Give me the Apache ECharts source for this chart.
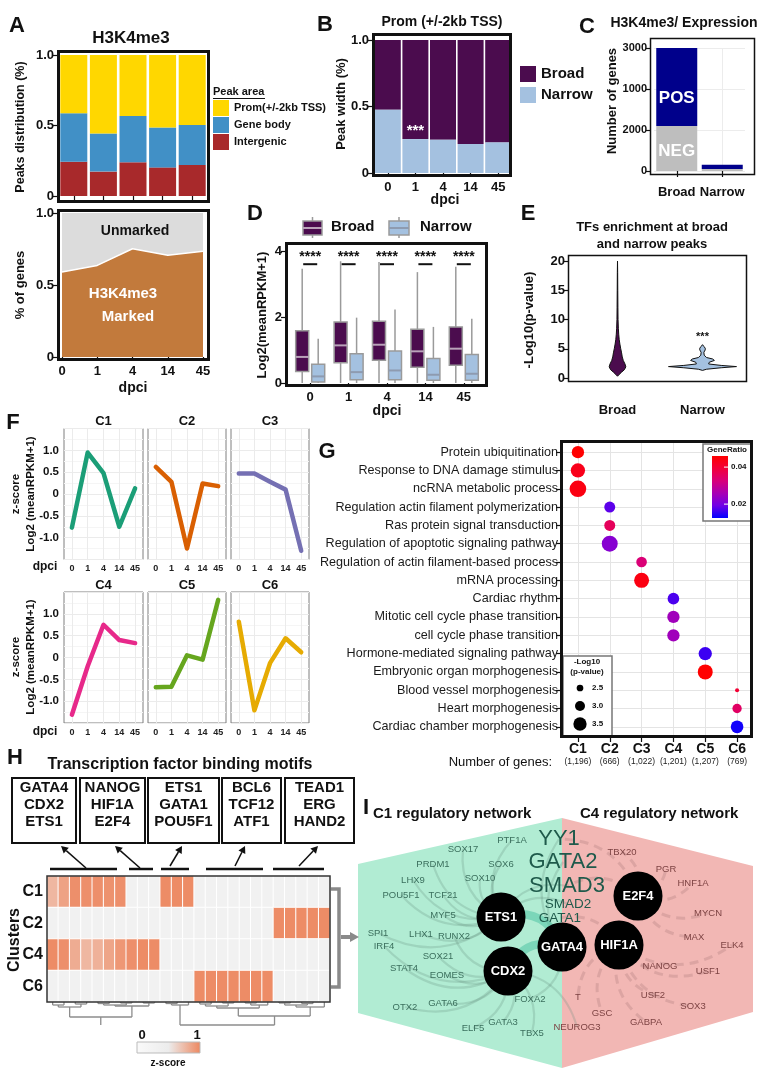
<!DOCTYPE html>
<html><head><meta charset="utf-8">
<script src="https://cdn.jsdelivr.net/npm/echarts@6.0.0/dist/echarts.min.js"></script>
<style>html,body{margin:0;padding:0;background:#fff;}#chart{width:761px;height:1068px;}</style>
</head><body><div id="chart"></div>
<script>
// ====================== DATA ======================
const dpci = ['0','1','4','14','45'];
// A
const peakProm = [0.414,0.556,0.433,0.515,0.496];
const peakGeneBody = [0.343,0.271,0.328,0.282,0.284];
const peakIntergenic = [0.243,0.173,0.239,0.203,0.220];
const peakAreaNames = ['Prom(+/-2kb TSS)','Gene body','Intergenic'];
const markedFrac = [0.59,0.636,0.752,0.706,0.734];
// B
const narrowFrac = [0.475,0.255,0.25,0.218,0.23];
const bSig = ['','***','','',''];
// C
const cCats = ['Broad','Narrow'];
const cNeg = [1100,50];
const cPos = [2050,100];
const cYTickLabels = ['0','2000','1000','3000'];
// D  [min, Q1, median, Q3, max]
const dBroad = [[0,0.35,0.79,1.58,3.46],[0,0.61,1.14,1.85,3.69],[0,0.69,1.16,1.87,3.67],[0,0.48,0.96,1.63,3.36],[0,0.54,1.04,1.70,3.52]];
const dNarrow = [[0,0.03,0.2,0.57,1.34],[0,0.1,0.33,0.89,1.98],[0,0.1,0.38,0.97,2.23],[0,0.08,0.25,0.74,1.7],[0,0.08,0.28,0.86,1.95]];
const dSig = ['****','****','****','****','****'];
// E  violin profiles [value, relative half-width]
const eCats = ['Broad','Narrow'];
const eBroadViolin = [[0.3,0],[0.6,0.05],[1.0,0.12],[1.4,0.2],[1.9,0.245],[2.4,0.22],[3.0,0.17],[3.6,0.14],[4.3,0.12],[5.0,0.095],[5.8,0.07],[6.6,0.05],[7.5,0.035],[8.5,0.025],[10,0.016],[12,0.012],[15,0.008],[18,0.005],[20,0]];
const eNarrowViolin = [[1.3,0],[1.5,0.12],[1.75,0.55],[1.95,1.0],[2.15,0.55],[2.4,0.18],[2.7,0.2],[3.0,0.35],[3.25,0.3],[3.5,0.12],[3.9,0.05],[4.4,0.04],[4.8,0.08],[5.1,0.08],[5.4,0.04],[5.7,0]];
const eSig = '***';
// F
const fClusters = ['C1','C2','C3','C4','C5','C6'];
const fValues = [
  [-0.77,0.95,0.48,-0.75,0.13],
  [0.62,0.28,-1.25,0.24,0.18],
  [0.47,0.47,0.28,0.1,-1.3],
  [-1.31,-0.2,0.75,0.4,0.33],
  [-0.68,-0.67,0.05,-0.05,1.32],
  [0.82,-1.21,-0.13,0.44,0.12]
];
// G
const gTerms = ['Protein ubiquitination','Response to DNA damage stimulus','ncRNA metabolic process','Regulation actin filament polymerization','Ras protein signal transduction','Regulation of apoptotic signaling pathway','Regulation of actin filament-based process','mRNA processing','Cardiac rhythm','Mitotic cell cycle phase transition','cell cycle phase transition','Hormone-mediated signaling pathway','Embryonic organ morphogenesis','Blood vessel morphogenesis','Heart morphogenesis','Cardiac chamber morphogenesis'];
const gClusters = ['C1','C2','C3','C4','C5','C6'];
const gCounts = ['(1,196)','(666)','(1,022)','(1,201)','(1,207)','(769)'];
const gDotCluster = [0,0,0,1,1,1,2,2,3,3,3,4,4,5,5,5];
const gDotLogP = [3.35,3.65,4.0,3.15,3.15,3.9,3.1,3.75,3.25,3.35,3.35,3.5,3.75,2.1,2.9,3.4];
const gDotRatio = [0.046,0.043,0.044,0.018,0.036,0.022,0.033,0.044,0.017,0.025,0.025,0.016,0.046,0.040,0.035,0.0135];
const gRatioTicks = [0.02,0.04];
const gPTicks = [2.5,3.0,3.5];
// H
const hRows = ['C1','C2','C4','C6'];
const hCols = ['m1','m2','m3','m4','m5','m6','m7','m8','m9','m10','m11','m12','m13','m14','m15','m16','m17','m18','m19','m20','m21','m22','m23','m24','m25'];
const hValues = [
  [0.55,0.75,0.92,0.92,0.92,0.9,0.92,0,0,0,0.95,0.95,0.95,0,0,0,0,0,0,0,0,0,0,0,0],
  [0,0,0,0,0,0,0,0,0,0,0,0,0,0,0,0,0,0,0,0,0.95,0.95,0.95,0.95,0.95],
  [0.95,0.92,0.65,0.55,0.6,0.72,0.85,0.92,0.95,0.95,0,0,0,0,0,0,0,0,0,0,0,0,0,0,0],
  [0,0,0,0,0,0,0,0,0,0,0,0,0,0.95,0.95,0.95,0.95,0.95,0.95,0.95,0,0,0,0,0]
];
const hMotifGroups = ['GATA4\nCDX2\nETS1','NANOG\nHIF1A\nE2F4','ETS1\nGATA1\nPOU5F1','BCL6\nTCF12\nATF1','TEAD1\nERG\nHAND2'];
// dendrogram segments [x1 (column units), h1, x2, h2]
const hDendro = [
  [0.5,0,0.5,3],[1.5,0,1.5,3],[0.5,3,1.5,3],
  [2.5,0,2.5,2],[3.5,0,3.5,2],[2.5,2,3.5,2],
  [1.0,3,1.0,5],[3.0,2,3.0,5],[1.0,5,3.0,5],
  [4.5,0,4.5,1.5],[5.5,0,5.5,1.5],[4.5,1.5,5.5,1.5],
  [6.5,0,6.5,1],[7.5,0,7.5,1],[6.5,1,7.5,1],
  [8.5,0,8.5,1],[9.5,0,9.5,1],[8.5,1,9.5,1],
  [5.0,1.5,5.0,3],[7.0,1,7.0,3],[5.0,3,7.0,3],
  [6.0,3,6.0,4],[9.0,1,9.0,4],[6.0,4,9.0,4],
  [2.0,5,2.0,15],[7.5,4,7.5,15],[2.0,15,7.5,15],[4.75,15,4.75,23],
  [10.5,0,10.5,1.5],[11.5,0,11.5,1.5],[10.5,1.5,11.5,1.5],
  [11.0,1.5,11.0,3],[12.5,0,12.5,3],[11.0,3,12.5,3],[11.75,3,11.75,23],
  [13.5,0,13.5,2],[14.5,0,14.5,2],[13.5,2,14.5,2],
  [15.5,0,15.5,1],[16.5,0,16.5,1],[15.5,1,16.5,1],
  [17.5,0,17.5,1],[18.5,0,18.5,1],[17.5,1,18.5,1],
  [14.0,2,14.0,4],[16.0,1,16.0,4],[14.0,4,16.0,4],
  [18.0,1,18.0,3],[19.5,0,19.5,3],[18.0,3,19.5,3],
  [15.0,4,15.0,6],[18.75,3,18.75,6],[15.0,6,18.75,6],[16.9,6,16.9,14],
  [20.5,0,20.5,1],[21.5,0,21.5,1],[20.5,1,21.5,1],
  [22.5,0,22.5,1.5],[23.5,0,23.5,1.5],[22.5,1.5,23.5,1.5],
  [21.0,1,21.0,3],[23.0,1.5,23.0,3],[21.0,3,23.0,3],
  [22.0,3,22.0,5],[24.5,0,24.5,5],[22.0,5,24.5,5],[23.25,5,23.25,14],
  [16.9,14,23.25,14],[20.1,14,20.1,23],[11.75,23,20.1,23]
];
// I network
const iHubs = ['ETS1','CDX2','GATA4','HIF1A','E2F4'];
const iHubPos = [[501,917],[508,971],[562,947],[619,945],[638,896]];
const iTFs = ['YY1','GATA2','SMAD3','SMAD2','GATA1'];
const iTFPos = [[559,839],[563,862],[567,886],[568,904],[560,918]];
const iC1Genes = ['PTF1A','SOX17','PRDM1','SOX6','LHX9','SOX10','POU5F1','TCF21','MYF5','LHX1','RUNX2','SPI1','IRF4','SOX21','STAT4','EOMES','OTX2','GATA6','ELF5','GATA3','TBX5','FOXA2'];
const iC1Pos = [[512,840],[463,849],[433,864],[501,864],[413,880],[480,878],[401,895],[443,895],[443,915],[421,934],[454,936],[378,933],[384,946],[438,956],[404,968],[447,975],[405,1007],[443,1003],[473,1028],[503,1022],[532,1033],[530,999]];
const iC4Genes = ['TBX20','PGR','HNF1A','MYCN','MAX','ELK4','NANOG','USF1','T','USF2','SOX3','GSC','GABPA','NEUROG3'];
const iC4Pos = [[622,852],[666,869],[693,883],[708,913],[694,937],[732,945],[660,966],[708,971],[578,997],[653,995],[693,1006],[602,1013],[646,1022],[577,1027]];
const iC1Links = [['ETS1','PTF1A'],['ETS1','SOX17'],['ETS1','PRDM1'],['ETS1','SOX6'],['ETS1','LHX9'],['ETS1','SOX10'],['ETS1','POU5F1'],['ETS1','TCF21'],['ETS1','MYF5'],['ETS1','LHX1'],['ETS1','SPI1'],['CDX2','RUNX2'],['CDX2','IRF4'],['CDX2','SOX21'],['CDX2','STAT4'],['CDX2','EOMES'],['CDX2','OTX2'],['CDX2','GATA6'],['CDX2','ELF5'],['CDX2','GATA3'],['CDX2','TBX5'],['GATA4','FOXA2'],['GATA4','YY1'],['GATA4','GATA2'],['ETS1','SMAD3'],['ETS1','SMAD2'],['CDX2','NEUROG3']];
const iC4Links = [['E2F4','TBX20'],['E2F4','PGR'],['E2F4','HNF1A'],['E2F4','MYCN'],['E2F4','MAX'],['HIF1A','ELK4'],['HIF1A','NANOG'],['HIF1A','USF1'],['HIF1A','USF2'],['HIF1A','SOX3'],['HIF1A','GABPA'],['HIF1A','GSC'],['HIF1A','T'],['E2F4','SMAD3'],['HIF1A','GATA1'],['E2F4','YY1']];
const iCoreLinks = [['ETS1','GATA4'],['CDX2','GATA4']];

// ====================== STYLE HELPERS ======================
const FONT = '"Liberation Sans", Arial, Helvetica, sans-serif';
const Bst = (size, color) => ({fontFamily: FONT, fontWeight: 'bold', fontSize: size, color: color || '#111'});
const tickStyle = {show: true, length: 4, lineStyle: {color: '#111', width: 1.2}};
function T(x, y, text, size, o) {
  o = o || {};
  return {type: 'text', x: x, y: y, rotation: o.rot || 0, z: o.z || 60, silent: true,
    style: {text: text, fill: o.color || '#111', fontSize: size, fontWeight: o.weight || 'bold', fontFamily: FONT,
      align: o.align || 'center', verticalAlign: o.va || 'middle', lineHeight: o.lh || undefined}};
}
function R(x, y, w, h, lw, stroke, fill, z) {
  return {type: 'rect', shape: {x: x, y: y, width: w, height: h}, z: z || 50, silent: true,
    style: {stroke: stroke || '#111', lineWidth: lw, fill: fill || 'transparent'}};
}
function L(x1, y1, x2, y2, lw, color, z) {
  return {type: 'line', shape: {x1: x1, y1: y1, x2: x2, y2: y2}, z: z || 50, silent: true, style: {stroke: color || '#111', lineWidth: lw}};
}
function arrow(x1, y1, x2, y2, lw, color, head) {
  const a = Math.atan2(y2 - y1, x2 - x1);
  const hx = x2 - head * Math.cos(a), hy = y2 - head * Math.sin(a), w = head * 0.55;
  return [L(x1, y1, hx, hy, lw, color),
    {type: 'polygon', z: 50, silent: true, shape: {points: [[x2, y2], [hx + w * Math.sin(a), hy - w * Math.cos(a)], [hx - w * Math.sin(a), hy + w * Math.cos(a)]]}, style: {fill: color}}];
}
const fmt1 = v => v === 0 ? '0' : v.toFixed(1);

const grids = [], xAxes = [], yAxes = [], S = [], G = [];
function addGrid(g) { g.outerBoundsMode = 'none'; grids.push(g); return grids.length - 1; }

// ====================== A top ======================
const gA1 = addGrid({left: 59, top: 55, width: 148, height: 141});
xAxes.push({gridIndex: gA1, type: 'category', data: dpci, offset: 7, axisLine: {show: false}, axisTick: Object.assign({alignWithLabel: true}, tickStyle), axisLabel: {show: false}, splitLine: {show: false}});
yAxes.push({gridIndex: gA1, type: 'value', min: 0, max: 1, interval: 0.5, offset: 2, axisLine: {show: false}, axisTick: tickStyle, axisLabel: Object.assign(Bst(13), {margin: 3, formatter: fmt1}), splitLine: {show: false}});
const aColors = ['#FFD700', '#4190C6', '#A8292B'];
[[peakIntergenic, 2], [peakGeneBody, 1], [peakProm, 0]].forEach(p => {
  S.push({type: 'bar', name: peakAreaNames[p[1]], xAxisIndex: gA1, yAxisIndex: gA1, stack: 'pa', barWidth: 27, data: p[0], itemStyle: {color: aColors[p[1]]}});
});
// ====================== A bottom ======================
const gA2 = addGrid({left: 62, top: 213, width: 141, height: 144});
xAxes.push({gridIndex: gA2, type: 'category', data: dpci, boundaryGap: false, offset: 4, axisLine: {show: false}, axisTick: tickStyle, axisLabel: Object.assign(Bst(13), {margin: 4, interval: 0}), splitLine: {show: false}});
yAxes.push({gridIndex: gA2, type: 'value', min: 0, max: 1, interval: 0.5, offset: 5, axisLine: {show: false}, axisTick: tickStyle, axisLabel: Object.assign(Bst(13), {margin: 3, formatter: fmt1}), splitLine: {show: false}});
S.push({type: 'line', name: 'Marked', xAxisIndex: gA2, yAxisIndex: gA2, stack: 'm', data: markedFrac, symbol: 'none', lineStyle: {color: '#fff', width: 1.5}, areaStyle: {color: '#C27A3C', opacity: 1}, z: 4});
S.push({type: 'line', name: 'Unmarked', xAxisIndex: gA2, yAxisIndex: gA2, stack: 'm', data: markedFrac.map(v => +(1 - v).toFixed(3)), symbol: 'none', lineStyle: {width: 0}, areaStyle: {color: '#DCDCDC', opacity: 1}, z: 3});
// ====================== B ======================
const gB = addGrid({left: 374, top: 40, width: 138, height: 133});
xAxes.push({gridIndex: gB, type: 'category', data: dpci, offset: 4, axisLine: {show: false}, axisTick: Object.assign({alignWithLabel: true}, tickStyle), axisLabel: Object.assign(Bst(13), {margin: 4, interval: 0}), splitLine: {show: false}});
yAxes.push({gridIndex: gB, type: 'value', min: 0, max: 1, interval: 0.5, offset: 2, axisLine: {show: false}, axisTick: tickStyle, axisLabel: Object.assign(Bst(13), {margin: 3, formatter: fmt1}), splitLine: {show: false}});
S.push({type: 'bar', name: 'Narrow', xAxisIndex: gB, yAxisIndex: gB, stack: 'pb', barWidth: 26, z: 4,
  data: narrowFrac.map((v, i) => ({value: v, label: {show: !!bSig[i], formatter: bSig[i], position: 'top', distance: 1, color: '#fff', fontSize: 15, fontWeight: 'bold', fontFamily: FONT}})),
  itemStyle: {color: '#A4C1E0'}});
S.push({type: 'bar', name: 'Broad', xAxisIndex: gB, yAxisIndex: gB, stack: 'pb', barWidth: 26, data: narrowFrac.map(v => +(1 - v).toFixed(3)), itemStyle: {color: '#4B0C4E'}});
// ====================== C ======================
const gC = addGrid({left: 654, top: 48, width: 91, height: 123});
xAxes.push({gridIndex: gC, type: 'category', data: cCats, offset: 4, axisLine: {show: false}, axisTick: Object.assign({alignWithLabel: true}, tickStyle, {length: 6}), axisLabel: Object.assign(Bst(13), {margin: 11, interval: 0}), splitLine: {show: true, alignWithLabel: true, lineStyle: {color: '#ececec'}}});
yAxes.push({gridIndex: gC, type: 'value', min: 0, max: 3000, interval: 1000, offset: 4, axisLine: {show: false}, axisTick: tickStyle, axisLabel: Object.assign(Bst(11), {margin: 3, formatter: v => cYTickLabels[Math.round(v / 1000)]}), splitLine: {show: true, lineStyle: {color: '#ececec'}}});
const cLbl = (t, i) => ({show: i === 0, formatter: t, color: '#fff', fontSize: 17, fontWeight: 'bold', fontFamily: FONT});
S.push({type: 'bar', name: 'NEG', xAxisIndex: gC, yAxisIndex: gC, stack: 'pc', barWidth: 41, data: cNeg.map((v, i) => ({value: v, label: Object.assign(cLbl('NEG', i), {position: 'inside', offset: [0, 3]})})), itemStyle: {color: '#BEBEBE'}});
S.push({type: 'bar', name: 'POS', xAxisIndex: gC, yAxisIndex: gC, stack: 'pc', barWidth: 41, data: cPos.map((v, i) => ({value: v, label: Object.assign(cLbl('POS', i), {position: 'insideBottom', distance: 19})})), itemStyle: {color: '#00008B'}});
// ====================== D ======================
const gD = addGrid({left: 291, top: 251, width: 192, height: 132});
xAxes.push({gridIndex: gD, type: 'category', data: dpci, offset: 4, axisLine: {show: false}, axisTick: Object.assign({alignWithLabel: true}, tickStyle), axisLabel: Object.assign(Bst(13), {margin: 4, interval: 0}), splitLine: {show: false}});
yAxes.push({gridIndex: gD, type: 'value', min: 0, max: 4, interval: 2, offset: 6, axisLine: {show: false}, axisTick: tickStyle, axisLabel: Object.assign(Bst(13), {margin: 3}), splitLine: {show: false}});
function boxRender(offset, fill, medColor) {
  return function (params, api) {
    const i = api.value(0);
    const x = api.coord([i, 0])[0] + offset;
    const y = v => api.coord([i, v])[1];
    const y0 = y(api.value(1)), q1 = y(api.value(2)), md = y(api.value(3)), q3 = y(api.value(4)), y4 = y(api.value(5));
    const w = 13, st = {stroke: '#9a9a9a', lineWidth: 1.5};
    return {type: 'group', children: [
      {type: 'line', shape: {x1: x, y1: q3, x2: x, y2: y4}, style: st},
      {type: 'line', shape: {x1: x, y1: q1, x2: x, y2: y0}, style: st},
      {type: 'rect', shape: {x: x - w / 2, y: q3, width: w, height: q1 - q3}, style: {fill: fill, stroke: '#9a9a9a', lineWidth: 1.5}},
      {type: 'line', shape: {x1: x - w / 2, y1: md, x2: x + w / 2, y2: md}, style: {stroke: medColor, lineWidth: 2}}
    ]};
  };
}
S.push({type: 'custom', name: 'Broad RPKM', xAxisIndex: gD, yAxisIndex: gD, data: dBroad.map((d, i) => [i].concat(d)), encode: {x: 0, y: [1, 2, 3, 4, 5]}, renderItem: boxRender(-8, '#4B0C4E', '#b9a3b9')});
S.push({type: 'custom', name: 'Narrow RPKM', xAxisIndex: gD, yAxisIndex: gD, data: dNarrow.map((d, i) => [i].concat(d)), encode: {x: 0, y: [1, 2, 3, 4, 5]}, renderItem: boxRender(8, '#A4C1E0', '#8e9bb0')});
S.push({type: 'custom', name: 'sigD', xAxisIndex: gD, yAxisIndex: gD, data: dSig.map((s, i) => [i]), encode: {x: 0},
  renderItem: function (params, api) {
    const i = api.value(0);
    const c = api.coord([i, 3.6]), t = api.coord([i, 3.8]);
    return {type: 'group', children: [
      {type: 'line', shape: {x1: c[0] - 7, y1: c[1], x2: c[0] + 7, y2: c[1]}, style: {stroke: '#111', lineWidth: 2}},
      {type: 'text', x: t[0], y: t[1], style: {text: dSig[i], fill: '#111', fontSize: 14, fontWeight: 'bold', fontFamily: FONT, align: 'center', verticalAlign: 'middle'}}
    ]};
  }});
// ====================== E ======================
const gE = addGrid({left: 575, top: 261, width: 170, height: 117});
xAxes.push({gridIndex: gE, type: 'category', data: eCats, offset: 4, axisLine: {show: false}, axisTick: {show: false}, axisLabel: Object.assign(Bst(13), {margin: 22, interval: 0}), splitLine: {show: false}});
yAxes.push({gridIndex: gE, type: 'value', min: 0, max: 20, interval: 5, offset: 7, axisLine: {show: false}, axisTick: tickStyle, axisLabel: Object.assign(Bst(13), {margin: 3}), splitLine: {show: false}});
function violinRender(profile, fill, sig) {
  return function (params, api) {
    const cat = api.value(0), left = [], right = [];
    profile.forEach(p => {
      const pt = api.coord([cat, p[0]]);
      left.push([pt[0] - p[1] * 34, pt[1]]);
      right.push([pt[0] + p[1] * 34, pt[1]]);
    });
    const kids = [{type: 'polygon', shape: {points: left.concat(right.reverse())}, style: {fill: fill, stroke: '#111', lineWidth: 1}}];
    if (sig) {
      const s = api.coord([cat, 7.0]);
      kids.push({type: 'text', x: s[0], y: s[1], style: {text: sig, fill: '#111', fontSize: 11, fontWeight: 'bold', fontFamily: FONT, align: 'center', verticalAlign: 'middle'}});
    }
    return {type: 'group', children: kids};
  };
}
S.push({type: 'custom', name: 'violinBroad', xAxisIndex: gE, yAxisIndex: gE, data: [[0]], encode: {x: 0}, renderItem: violinRender(eBroadViolin, '#4B0C4E', null)});
S.push({type: 'custom', name: 'violinNarrow', xAxisIndex: gE, yAxisIndex: gE, data: [[1]], encode: {x: 0}, renderItem: violinRender(eNarrowViolin, '#A4C1E0', eSig)});
// ====================== F ======================
const fPalette = ['#1B9E77', '#D95F02', '#7570B3', '#E7298A', '#66A61E', '#E6AB02'];
const fLefts = [64, 148, 231], fWidths = [79, 78, 78], fTops = [428.5, 592];
fClusters.forEach((cl, k) => {
  const col = k % 3, row = Math.floor(k / 3);
  const gi = addGrid({left: fLefts[col], top: fTops[row], width: fWidths[col], height: 131, show: true, borderColor: '#7f7f7f', borderWidth: 1, backgroundColor: '#fff'});
  xAxes.push({gridIndex: gi, type: 'category', data: dpci, boundaryGap: true, axisLine: {show: false}, axisTick: {show: false}, axisLabel: Object.assign(Bst(9, '#222'), {margin: 5, interval: 0}), splitLine: {show: true, alignWithLabel: true, lineStyle: {color: '#ebebeb'}}});
  yAxes.push({gridIndex: gi, type: 'value', min: -1.5, max: 1.5, interval: 0.5, axisLine: {show: false}, axisTick: {show: false},
    axisLabel: Object.assign(Bst(11.5), {show: col === 0, margin: 5, formatter: v => Math.abs(v) > 1.01 ? '' : fmt1(v)}),
    splitLine: {show: true, lineStyle: {color: '#ebebeb'}}, minorTick: {show: false, splitNumber: 2}, minorSplitLine: {show: true, lineStyle: {color: '#f5f5f5'}}});
  S.push({type: 'line', name: cl, xAxisIndex: gi, yAxisIndex: gi, data: fValues[k], symbol: 'none', lineStyle: {color: fPalette[k], width: 4.5, cap: 'round', join: 'round'}, z: 4});
  G.push(T(fLefts[col] + fWidths[col] / 2, fTops[row] - 7, cl, 13));
});
// ====================== G ======================
const gG = addGrid({left: 562, top: 443, width: 191, height: 293});
xAxes.push({gridIndex: gG, type: 'category', data: gClusters, offset: 2, axisLine: {show: false}, axisTick: Object.assign({alignWithLabel: true}, tickStyle),
  axisLabel: {interval: 0, margin: 5, formatter: (v, i) => '{a|' + v + '}\n{b|' + gCounts[i] + '}',
    rich: {a: Object.assign(Bst(14), {lineHeight: 13}), b: {fontFamily: FONT, fontSize: 8.5, color: '#222', lineHeight: 11}}},
  splitLine: {show: true, alignWithLabel: true, lineStyle: {color: '#e4e4e4'}}});
yAxes.push({gridIndex: gG, type: 'category', data: gTerms, inverse: true, offset: 1, axisLine: {show: false}, axisTick: Object.assign({alignWithLabel: true}, tickStyle, {length: 5}),
  axisLabel: {interval: 0, margin: 3, fontFamily: FONT, fontSize: 12.6, color: '#1a1a1a'},
  splitLine: {show: true, alignWithLabel: true, lineStyle: {color: '#e4e4e4'}}});
const gSize = p => Math.max(3, 6.7 + (p - 2.5) * 6.6);
const gColorStops = ['#0000ff', '#7000e6', '#a800b4', '#d8007a', '#f2003a', '#ff0000'];
const gSeriesIdx = S.length;
S.push({type: 'scatter', name: 'GO', xAxisIndex: gG, yAxisIndex: gG, data: gDotCluster.map((c, i) => [c, i, gDotLogP[i], gDotRatio[i]]), encode: {x: 0, y: 1}, symbolSize: d => gSize(d[2]), itemStyle: {opacity: 1}, z: 5});
// ====================== H ======================
const gH = addGrid({left: 47, top: 876, width: 283, height: 126});
xAxes.push({gridIndex: gH, type: 'category', data: hCols, axisLine: {show: false}, axisTick: {show: false}, axisLabel: {show: false}, splitLine: {show: false}});
yAxes.push({gridIndex: gH, type: 'category', data: hRows, inverse: true, axisLine: {show: false}, axisTick: {show: false}, axisLabel: Object.assign(Bst(16), {margin: 4, interval: 0}), splitLine: {show: false}});
const hData = [];
hValues.forEach((row, r) => row.forEach((v, c) => hData.push([c, r, v])));
const hSeriesIdx = S.length;
S.push({type: 'heatmap', name: 'motifs', xAxisIndex: gH, yAxisIndex: gH, data: hData, itemStyle: {borderColor: '#ffffff', borderWidth: 1}, emphasis: {disabled: true}});
const gHd = addGrid({left: 47, top: 1002, width: 283, height: 28});
xAxes.push({gridIndex: gHd, type: 'value', min: 0, max: 25, show: false});
yAxes.push({gridIndex: gHd, type: 'value', min: 0, max: 28, inverse: true, show: false});
S.push({type: 'custom', name: 'dendro', xAxisIndex: gHd, yAxisIndex: gHd, data: hDendro, encode: {x: [0, 2], y: [1, 3]},
  renderItem: function (params, api) {
    const a = api.coord([api.value(0), api.value(1)]), b = api.coord([api.value(2), api.value(3)]);
    return {type: 'line', shape: {x1: a[0], y1: a[1], x2: b[0], y2: b[1]}, style: {stroke: '#8c8c8c', lineWidth: 1.3}};
  }});
// ====================== I ======================
const gI = addGrid({left: 362, top: 805, width: 399, height: 263});
xAxes.push({gridIndex: gI, type: 'value', min: 362, max: 761, show: false});
yAxes.push({gridIndex: gI, type: 'value', min: 805, max: 1068, inverse: true, show: false});
const nodes = [];
const txtNode = (n, pos, color, size) => ({name: n, value: pos, symbol: 'circle', symbolSize: 1, itemStyle: {color: 'rgba(0,0,0,0)'},
  label: {show: true, position: 'inside', color: color, fontSize: size, fontFamily: FONT, formatter: '{b}'}});
iC1Genes.forEach((n, i) => nodes.push(txtNode(n, iC1Pos[i], '#3b6f5d', 9.5)));
iC4Genes.forEach((n, i) => nodes.push(txtNode(n, iC4Pos[i], '#7d4343', 9.5)));
iTFs.forEach((n, i) => nodes.push(txtNode(n, iTFPos[i], '#1f5a4b', i < 3 ? 22 : 13.5)));
iHubs.forEach((n, i) => nodes.push({name: n, value: iHubPos[i], symbol: 'circle', symbolSize: 49, itemStyle: {color: '#000'},
  label: {show: true, position: 'inside', color: '#fff', fontSize: 13, fontWeight: 'bold', fontFamily: FONT, formatter: '{b}'}}));
const links = [];
iC1Links.forEach(l => links.push({source: l[0], target: l[1], lineStyle: {color: 'rgba(100,140,122,0.5)', width: 2.2, curveness: 0.35}}));
iC4Links.forEach(l => links.push({source: l[0], target: l[1], lineStyle: {color: 'rgba(165,115,115,0.55)', width: 3, type: [9, 6], curveness: -0.35}}));
iCoreLinks.forEach(l => links.push({source: l[0], target: l[1], lineStyle: {color: '#45bf9f', width: 8, curveness: 0.45}}));
S.push({type: 'graph', name: 'network', coordinateSystem: 'cartesian2d', xAxisIndex: gI, yAxisIndex: gI, layout: 'none', roam: false, silent: true,
  data: nodes, links: links, edgeSymbol: ['none', 'none'], emphasis: {disabled: true}, z: 3});

// ====================== GRAPHIC ======================
// panel letters
[['A', 17, 26], ['B', 325, 25], ['C', 587, 27], ['D', 255, 214], ['E', 528, 214], ['F', 13, 423], ['G', 327, 452], ['H', 15, 758], ['I', 366, 808]]
  .forEach(p => G.push(T(p[1], p[2], p[0], 22)));
// titles
G.push(T(131, 38, 'H3K4me3', 17));
G.push(T(442, 22, 'Prom (+/-2kb TSS)', 14));
G.push(T(684, 23, 'H3K4me3/ Expression', 14));
G.push(T(652, 236, 'TFs enrichment at broad\nand narrow peaks', 13, {lh: 17}));
G.push(T(180, 765, 'Transcription factor binding motifs', 16));
G.push(T(373, 814, 'C1 regulatory network', 15, {align: 'left'}));
G.push(T(580, 814, 'C4 regulatory network', 15, {align: 'left'}));
// axis names
const R90 = Math.PI / 2;
G.push(T(21, 127, 'Peaks distribution (%)', 12.5, {rot: R90}));
G.push(T(20, 285, '% of genes', 13, {rot: R90}));
G.push(T(341, 104, 'Peak width (%)', 13, {rot: R90}));
G.push(T(612, 101, 'Number of genes', 13, {rot: R90}));
G.push(T(262, 315, 'Log2(meanRPKM+1)', 13, {rot: R90}));
G.push(T(529, 320, '-Log10(p-value)', 13, {rot: R90}));
G.push(T(23, 494, 'z-score\nLog2 (meanRPKM+1)', 11.5, {rot: R90, lh: 15}));
G.push(T(23, 657, 'z-score\nLog2 (meanRPKM+1)', 11.5, {rot: R90, lh: 15}));
G.push(T(15, 940, 'Clusters', 16, {rot: R90}));
G.push(T(133, 388, 'dpci', 14));
G.push(T(445, 200, 'dpci', 14));
G.push(T(387, 411, 'dpci', 14));
G.push(T(45, 567, 'dpci', 12));
G.push(T(45, 732, 'dpci', 12));
// frames
G.push(R(58.5, 51.5, 150, 150, 3));
G.push(R(58.5, 210.5, 150, 149, 3));
G.push(R(373.5, 34.5, 137, 141, 3));
G.push(R(650.5, 38.5, 104, 136, 1.5));
G.push(R(286.5, 243.5, 200, 142, 3));
G.push(R(568.5, 255.5, 178, 126, 1.5));
G.push(R(561.5, 441.5, 190, 295, 3));
G.push(R(47, 876, 283, 126, 1.5, '#333'));
// A annotations
G.push(T(135, 231, 'Unmarked', 14));
G.push(T(123, 294, 'H3K4me3', 15, {color: '#fff'}));
G.push(T(128, 317, 'Marked', 15, {color: '#fff'}));
G.push(T(213, 92, 'Peak area', 11, {align: 'left'}));
G.push(L(213, 98.5, 265, 98.5, 1));
// D legend
G.push(L(312.5, 217, 312.5, 238, 1.5, '#9a9a9a'));
G.push(R(303, 221, 19, 14, 1.5, '#9a9a9a', '#4B0C4E', 55));
G.push(L(303, 228, 322, 228, 2, '#b9a3b9', 56));
G.push(T(331, 227, 'Broad', 15, {align: 'left'}));
G.push(L(399, 217, 399, 238, 1.5, '#9a9a9a'));
G.push(R(389, 221, 20, 14, 1.5, '#9a9a9a', '#A4C1E0', 55));
G.push(L(389, 228, 409, 228, 2, '#8e9bb0', 56));
G.push(T(420, 227, 'Narrow', 15, {align: 'left'}));
// G legends
const grTop = 456, grH = 62, grMin = 0.0125, grMax = 0.046;
G.push(R(703, 444, 49, 77, 1.5, '#777', '#fff', 20));
G.push(T(727, 450, 'GeneRatio', 8, {z: 21}));
G.push({type: 'rect', z: 21, silent: true, shape: {x: 712, y: grTop, width: 16, height: grH},
  style: {fill: {type: 'linear', x: 0, y: 1, x2: 0, y2: 0, colorStops: gColorStops.map((c, i) => ({offset: i / (gColorStops.length - 1), color: c}))}}});
gRatioTicks.forEach(v => {
  const yy = grTop + grH - (v - grMin) / (grMax - grMin) * grH;
  G.push(L(724, yy, 728, yy, 1, '#fff', 22));
  G.push(T(731, yy, v.toFixed(2), 8, {align: 'left', z: 22}));
});
G.push(R(563, 656, 49, 80, 1.5, '#777', '#fff', 20));
G.push(T(587, 667, '-Log10\n(p-value)', 8, {z: 21, lh: 10}));
gPTicks.forEach((p, i) => {
  const yy = 688 + i * 18;
  G.push({type: 'circle', z: 21, silent: true, shape: {cx: 580, cy: yy, r: gSize(p) / 2}, style: {fill: '#000'}});
  G.push(T(592, yy, p.toFixed(1), 8, {align: 'left', z: 21}));
});
G.push(T(552, 762, 'Number of genes:', 13, {align: 'right', weight: 'normal'}));
// H annotation boxes and arrows
const hBoxX = [[12, 76], [80, 145], [148, 219], [222, 281], [285, 354]];
hBoxX.forEach((b, i) => {
  G.push(R(b[0], 778, b[1] - b[0], 65, 2));
  G.push(T((b[0] + b[1]) / 2, 805, hMotifGroups[i], 15, {lh: 17}));
});
const hBars = [[50, 117], [129, 153], [161, 189], [206, 263], [273, 324]];
hBars.forEach(b => G.push(L(b[0], 869, b[1], 869, 2.5)));
[[86, 868, 61, 846], [140, 868, 115, 846], [170, 866, 182, 846], [235, 866, 245, 846], [299, 866, 318, 846]]
  .forEach(a => arrow(a[0], a[1], a[2], a[3], 1.5, '#111', 7).forEach(e => G.push(e)));
G.push({type: 'polyline', z: 50, silent: true, shape: {points: [[331, 889], [339, 889], [339, 987], [331, 987]]}, style: {stroke: '#8a8a8a', lineWidth: 3.5, fill: null}});
arrow(341, 937, 359, 937, 4, '#8a8a8a', 9).forEach(e => G.push(e));
// H colorbar
G.push({type: 'rect', z: 50, silent: true, shape: {x: 137, y: 1042, width: 63, height: 11},
  style: {stroke: '#bbb', lineWidth: 1, fill: {type: 'linear', x: 0, y: 0, x2: 1, y2: 0, colorStops: [{offset: 0, color: '#fafafa'}, {offset: 0.5, color: '#ececec'}, {offset: 1, color: '#ed875f'}]}}});
G.push(T(142, 1035, '0', 13));
G.push(T(197, 1035, '1', 13));
G.push(T(168, 1063, 'z-score', 10));
// I background
G.push({type: 'polygon', z: 0, silent: true, shape: {points: [[562, 818], [358, 864], [358, 1013], [562, 1068]]}, style: {fill: '#b1ecd3'}});
G.push({type: 'polygon', z: 0, silent: true, shape: {points: [[562, 818], [753, 866], [753, 1012], [562, 1068]]}, style: {fill: '#f2b7b4'}});

// ====================== OPTION ======================
const option = {
  animation: false,
  backgroundColor: '#ffffff',
  textStyle: {fontFamily: FONT},
  tooltip: {show: false},
  grid: grids, xAxis: xAxes, yAxis: yAxes,
  legend: [
    {orient: 'vertical', left: 213, top: 100, itemWidth: 16, itemHeight: 16, itemGap: 1, icon: 'rect', selectedMode: false,
      data: peakAreaNames, textStyle: Bst(11), padding: 0},
    {orient: 'vertical', left: 520, top: 66, itemWidth: 16, itemHeight: 16, itemGap: 5, icon: 'rect', selectedMode: false,
      data: ['Broad', 'Narrow'], textStyle: Bst(15), padding: 0}
  ],
  visualMap: [
    {type: 'continuous', show: false, seriesIndex: gSeriesIdx, dimension: 3, min: grMin, max: grMax, inRange: {color: gColorStops}},
    {type: 'continuous', show: false, seriesIndex: hSeriesIdx, dimension: 2, min: 0, max: 1, inRange: {color: ['#f1f1f1', '#ed875f']}}
  ],
  series: S,
  graphic: {elements: G}
};
const chart = echarts.init(document.getElementById('chart'), null, {renderer: 'canvas', width: 761, height: 1068});
chart.setOption(option);
</script>
</body></html>
